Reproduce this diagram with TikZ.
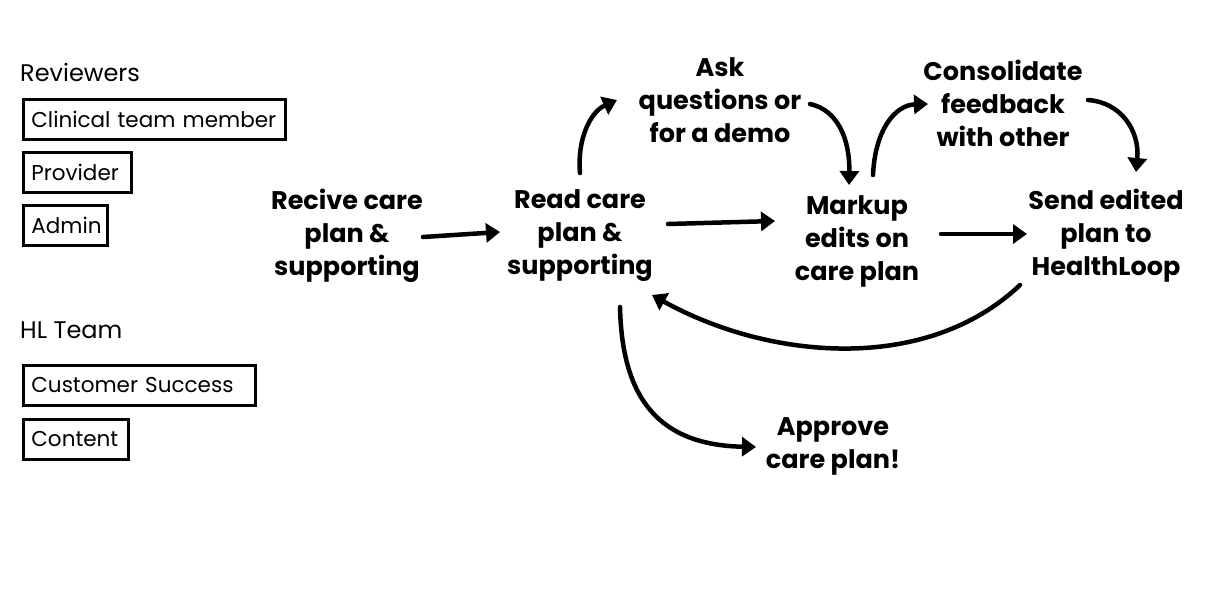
\documentclass[tikz,border=0pt]{standalone}
\usepackage{fontspec}
\setmainfont{Poppins}
\usetikzlibrary{arrows.meta}
\begin{document}
\begin{tikzpicture}[x=1pt,y=-1pt,
  lbl/.style={font=\fontsize{24}{28}\selectfont, anchor=west, inner sep=0pt},
  rolebox/.style={draw, line width=2.8pt, font=\fontsize{21.5}{24}\selectfont, anchor=north west, inner xsep=8pt, inner ysep=0pt, minimum height=40pt, align=left, text width=#1},
  stepnode/.style={font=\fontsize{25.5}{33}\selectfont\bfseries, align=center, inner sep=2pt},
  arr/.style={line width=4.5pt, -{Triangle[length=14pt,width=19pt]}, line cap=round}
]
\useasboundingbox (0,0) rectangle (1209,598);
% legend
\node[lbl] (rev) at (20,72) {Reviewers};
\node[rolebox=246pt] (ctm) at (22,98) {Clinical team member};
\node[rolebox=92pt] (prov) at (22,151) {Provider};
\node[rolebox=68pt] (adm) at (22,204) {Admin};
\node[lbl] (hl) at (20,330) {HL Team};
\node[rolebox=216pt] (cs) at (22,364) {Customer Success};
\node[rolebox=89pt] (cont) at (22,418) {Content};
% steps
\node[stepnode] (recv) at (347,236) {Recive care\\plan \&\\supporting};
\node[stepnode] (read) at (580,236) {Read care\\plan \&\\supporting};
\node[stepnode] (ask) at (720,100) {Ask\\questions or\\for a demo};
\node[stepnode] (mark) at (857,241) {Markup\\edits on\\care plan};
\node[stepnode] (cons) at (1003,103) {Consolidate\\feedback\\with other};
\node[stepnode] (send) at (1106,236) {Send edited\\plan to\\HealthLoop};
\node[stepnode] (appr) at (833,446) {Approve\\care plan!};
% connectors
\draw[arr] ([shift={(76,1)}]recv.center) -- ([shift={(-80,-4)}]read.center);
\draw[arr] ([shift={(88,-12)}]read.center) -- ([shift={(-82,-20)}]mark.center);
\draw[arr] ([shift={(84,-7)}]mark.center) -- ([shift={(-79,-2)}]send.center);
\draw[arr] ([shift={(0,-63)}]read.center) .. controls +(-3,-33) and +(-27,12) .. ([shift={(-103,0)}]ask.center);
\draw[arr] ([shift={(90,4)}]ask.center) .. controls +(28,6) and +(1,-45) .. ([shift={(-8,-56)}]mark.center);
\draw[arr] ([shift={(16,-66)}]mark.center) .. controls +(2,-45) and +(-33,1) .. ([shift={(-75,1)}]cons.center);
\draw[arr] ([shift={(85,-3)}]cons.center) .. controls +(32,2) and +(4,-42) .. ([shift={(30,-64)}]send.center);
\draw[arr] ([shift={(-86,49)}]send.center) .. controls +(-95,90) and +(115,64) .. ([shift={(72,59)}]read.center);
\draw[arr] ([shift={(40,71)}]read.center) .. controls +(2,93) and +(-96,-2) .. ([shift={(-77,1)}]appr.center);
\end{tikzpicture}
\end{document}
